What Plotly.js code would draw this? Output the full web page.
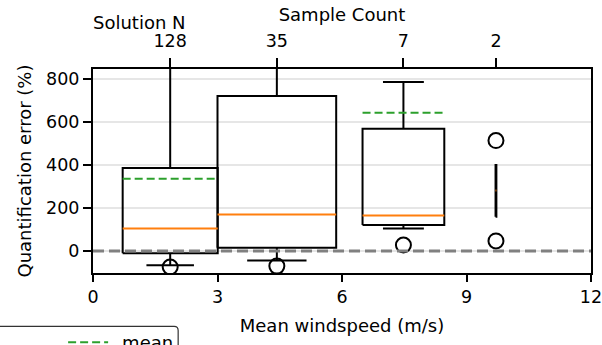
<!DOCTYPE html>
<html><head><meta charset="utf-8">
<script src="https://cdn.plot.ly/plotly-3.0.1.min.js"></script>
<style>html,body{margin:0;padding:0;background:#fff;}#chart{width:602px;height:345px;}</style>
</head><body><div id="chart"></div>
<script>
// ---- data ----
const centers      = [1.86, 4.43, 7.48, 9.71];
const boxWidths    = [2.29, 2.86, 1.97, 0.02];
const q1           = [-10, 16, 121, 160];
const q3           = [387, 721, 569, 400];
const medians      = [105, 170, 166, 282];
const means        = [337, null, 643, null];
const whiskerLow   = [-66, -44, 105, null];
const whiskerHigh  = [1200, 1200, 787, null];
const fliers       = [[-74], [-70], [28], [514, 47]];
const sampleCounts = ['128', '35', '7', '2'];
const xTicks       = [0, 3, 6, 9, 12];
const yTicks       = [0, 200, 400, 600, 800];

// ---- build traces ----
const boxX = [], boxY = [], medX = [], medY = [], meanX = [], meanY = [], flX = [], flY = [];
centers.forEach((c, i) => {
  const w = boxWidths[i], x0 = c - w / 2, x1 = c + w / 2, cw = w / 4;
  boxX.push(x0, x1, x1, x0, x0, null);
  boxY.push(q1[i], q1[i], q3[i], q3[i], q1[i], null);
  if (whiskerLow[i] !== null) {
    boxX.push(c, c, null, c - cw, c + cw, null);
    boxY.push(q1[i], whiskerLow[i], null, whiskerLow[i], whiskerLow[i], null);
  }
  if (whiskerHigh[i] !== null) {
    boxX.push(c, c, null, c - cw, c + cw, null);
    boxY.push(q3[i], whiskerHigh[i], null, whiskerHigh[i], whiskerHigh[i], null);
  }
  medX.push(x0, x1, null); medY.push(medians[i], medians[i], null);
  if (means[i] !== null) { meanX.push(x0, x1, null); meanY.push(means[i], means[i], null); }
  fliers[i].forEach(v => { flX.push(c); flY.push(v); });
});

const F = 'DejaVu Sans, sans-serif';
const traces = [
  {x: boxX, y: boxY, mode: 'lines', line: {color: '#000', width: 2}, showlegend: false, hoverinfo: 'skip'},
  {x: medX, y: medY, mode: 'lines', line: {color: '#ff7f0e', width: 2}, showlegend: false, hoverinfo: 'skip'},
  {x: meanX, y: meanY, mode: 'lines', name: '\u2002mean', line: {color: '#2ca02c', width: 2, dash: '8px,4px'}, showlegend: true},
  {x: flX, y: flY, mode: 'markers', marker: {symbol: 'circle-open', size: 15, color: '#000', line: {width: 2, color: '#000'}}, showlegend: false, hoverinfo: 'skip'},
  {x: centers, y: centers.map(() => null), xaxis: 'x2', mode: 'markers', showlegend: false, hoverinfo: 'skip'}
];

const layout = {
  width: 602, height: 345,
  margin: {l: 93, r: 11, t: 69, b: 72, autoexpand: false},
  paper_bgcolor: '#fff', plot_bgcolor: '#fff',
  font: {family: F, size: 17.5, color: '#000'},
  xaxis: {range: [0, 12], tickvals: xTicks, ticktext: xTicks.map(String),
          showline: true, linecolor: '#000', linewidth: 2, mirror: true,
          ticks: 'outside', ticklen: 7, tickwidth: 2, tickcolor: '#000',
          showgrid: false, zeroline: false, automargin: false, ticklabeloverflow: 'allow',
          title: {text: 'Mean windspeed (m/s)', font: {family: F, size: 18}, standoff: 13}},
  xaxis2: {range: [0, 12], overlaying: 'x', side: 'top', anchor: 'y',
           tickvals: centers, ticktext: sampleCounts, automargin: false,
           ticks: 'outside', ticklen: 10, tickwidth: 2, tickcolor: '#000', ticklabelstandoff: 4,
           showline: false, showgrid: false, zeroline: false,
           title: {text: 'Sample Count', font: {family: F, size: 18}, standoff: 4}},
  yaxis: {range: [-102, 847], tickvals: yTicks, ticktext: yTicks.map(String),
          showline: true, linecolor: '#000', linewidth: 2, mirror: true, automargin: false,
          ticks: 'outside', ticklen: 8, tickwidth: 2, tickcolor: '#000',
          showgrid: true, gridcolor: '#e6e6e6', gridwidth: 1.5, zeroline: false,
          title: {text: 'Quantification error (%)', font: {family: F, size: 18}, standoff: 10}},
  shapes: [
    {type: 'line', xref: 'paper', yref: 'y', x0: 0, x1: 1, y0: 0, y1: 0,
     line: {color: '#808080', width: 3, dash: '11px,5px'}, layer: 'above'},
    {type: 'path', xref: 'paper', yref: 'paper',
     path: 'M -0.2,-0.40 L -0.2,-0.262 L 0.163,-0.262 Q 0.171,-0.262 0.171,-0.282 L 0.171,-0.40',
     line: {color: '#333', width: 1.2}}
  ],
  annotations: [
    {text: 'Solution N', xref: 'paper', yref: 'paper', x: 0.094, y: 1.23,
     showarrow: false, font: {family: F, size: 18}, xanchor: 'center', yanchor: 'middle'}
  ],
  showlegend: true,
  legend: {x: -0.06, y: -0.25, xanchor: 'left', yanchor: 'top', bgcolor: 'rgba(0,0,0,0)',
           borderwidth: 0, font: {family: F, size: 18}, itemwidth: 40}
};

Plotly.newPlot('chart', traces, layout, {displayModeBar: false, staticPlot: true});
</script></body></html>
